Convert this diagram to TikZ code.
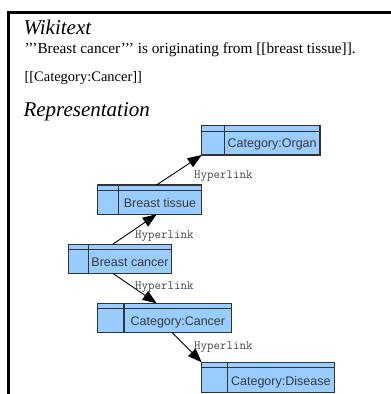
\documentclass[tikz,border=0pt]{standalone}
\usepackage{fontspec}
\setmainfont{Liberation Serif}
\newfontfamily\boxfont{Liberation Sans}
\usetikzlibrary{arrows.meta,calc}
\definecolor{boxfill}{HTML}{99CCFF}
\definecolor{boxline}{HTML}{333333}
\definecolor{boxtext}{HTML}{3A3A3A}
\definecolor{lbltext}{HTML}{444444}
\tikzset{
  umlbox/.style={draw=boxline, fill=boxfill, line width=1.2pt, inner sep=0pt, outer sep=0pt},
  umlline/.style={draw=boxline, line width=1.2pt},
  boxlabel/.style={inner sep=0pt, text=boxtext, font=\boxfont\fontsize{12.5}{15}\selectfont},
  lbl/.style={inner sep=0pt, text=lbltext, font=\ttfamily\fontsize{12.6}{15}\selectfont},
  txt/.style={inner sep=0pt, anchor=base west},
  link/.style={draw=black, line width=0.9pt, -{Triangle[length=14pt,width=10.5pt]}},
  frame/.style={draw=black, line width=3pt, line join=miter}
}
% name, left, top, right, bottom, divider offset, text
\newcommand{\umlclass}[7]{%
  \node[umlbox, anchor=north west, minimum width=#4pt-#2pt, minimum height=#5pt-#3pt] (#1) at (#2,#3) {};
  \draw[umlline] ($(#1.north west)+(0pt,-5.5pt)$) -- ($(#1.north east)+(0pt,-5.5pt)$);
  \draw[umlline] ($(#1.north west)+(#6pt,0pt)$) -- ($(#1.south west)+(#6pt,0pt)$);
  \node[boxlabel, anchor=base] (#1-t) at ({(#2+#6+#4)/2},{#5-7.2}) {#7};
}
\begin{document}
\begin{tikzpicture}[x=1pt,y=-1pt]
\useasboundingbox (0,0) rectangle (391,394);
\coordinate (fr1) at (391,12.5);
\coordinate (fr2) at (8.7,12.5);
\coordinate (fr3) at (8.7,394);
\draw[frame] (fr1) -- (fr2) -- (fr3);

\node[txt] (wt) at (23.3,34.5) {\fontsize{21}{25}\selectfont\itshape Wikitext};
\node[txt] (l1) at (24.3,53.5) {\fontsize{15.3}{18}\selectfont ’’’Breast cancer’’’ is originating from [[breast tissue]].};
\node[txt] (l2) at (24.3,81.5) {\fontsize{14.5}{17}\selectfont [[Category:Cancer]]};
\node[txt] (rep) at (23.3,116.5) {\fontsize{21}{25}\selectfont\itshape Representation};

\umlclass{organ}{201.7}{125.7}{320}{155}{22.6}{Category:Organ}
\umlclass{tissue}{97.7}{185}{201.7}{214.3}{20.6}{Breast tissue}
\umlclass{bc}{68.3}{244.3}{171.7}{273.3}{20}{Breast cancer}
\umlclass{catc}{97.7}{303.3}{231.7}{332.7}{26.3}{Category:Cancer}
\umlclass{dis}{201.7}{362.3}{334.3}{392.3}{25.6}{Category:Disease}

\draw[link] ($(tissue.north west)!0.567!(tissue.north east)$) -- (organ.south west);
\draw[link] ($(bc.north west)!0.43!(bc.north east)$) -- ($(tissue.south west)!0.567!(tissue.south east)$);
\draw[link] ($(bc.south west)!0.43!(bc.south east)$) -- ($(catc.north west)!0.44!(catc.north east)$);
\draw[link] ($(catc.south west)!0.557!(catc.south east)$) -- (dis.north west);

\node[lbl, anchor=base west] (h1) at (194,178.3) {Hyperlink};
\node[lbl, anchor=base west] (h2) at (135,238.3) {Hyperlink};
\node[lbl, anchor=base west] (h3) at (135,289) {Hyperlink};
\node[lbl, anchor=base west] (h4) at (194,349) {Hyperlink};
\end{tikzpicture}
\end{document}
